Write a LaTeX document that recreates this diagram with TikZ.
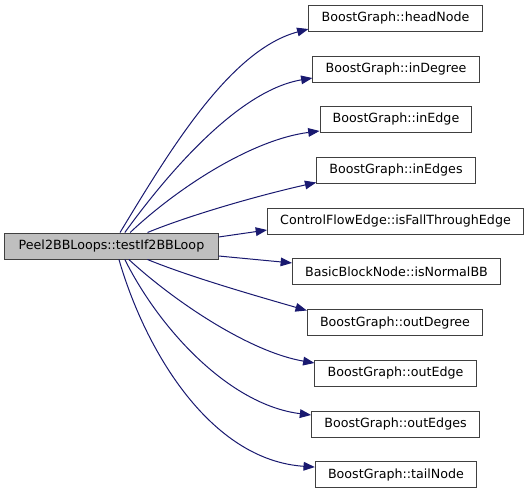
\documentclass[tikz,border=0pt]{standalone}
\usepackage{fontspec}
\setmainfont{DejaVu Sans}
\usepackage{xcolor}
\usetikzlibrary{arrows.meta}
\definecolor{edgeblue}{HTML}{191970}
\definecolor{rootgray}{HTML}{BFBFBF}
\definecolor{boxline}{HTML}{404040}

\begin{document}
\begin{tikzpicture}[
  x=0.75pt, y=-0.75pt,
  func/.style={rectangle, draw=boxline, fill=white, line width=0.75pt, minimum height=19.5pt, inner xsep=9.5pt, font=\fontsize{9.5}{11}\selectfont},
  arrow/.style={-{Triangle[length=8.5pt, width=6.5pt]}, draw=edgeblue, line width=0.75pt}
]
 \useasboundingbox[fill=white] (0,0) rectangle (531,493);

 % Caller
 \node[func, fill=rootgray, minimum width=160pt] (testLoop) at (111.5,246) {Peel2BBLoops::testIf2BBLoop};

 % Callees
 \node[func] (headNode) at (395.5,18.5) {BoostGraph::headNode};
 \node[func] (inDegree) at (396,69.5) {BoostGraph::inDegree};
 \node[func] (inEdge) at (396,119.5) {BoostGraph::inEdge};
 \node[func] (inEdges) at (396,170.5) {BoostGraph::inEdges};
 \node[func] (fallThrough) at (395.5,221) {ControlFlowEdge::isFallThroughEdge};
 \node[func] (normalBB) at (396.5,271.5) {BasicBlockNode::isNormalBB};
 \node[func] (outDegree) at (395,322.5) {BoostGraph::outDegree};
 \node[func] (outEdge) at (395.5,373) {BoostGraph::outEdge};
 \node[func] (outEdges) at (395.5,424) {BoostGraph::outEdges};
 \node[func] (tailNode) at (396,474.5) {BoostGraph::tailNode};

 % Calls
 \draw[arrow] ([xshift=6.4pt]testLoop.north) .. controls (170,150) and (230,50) .. ([yshift=-7.9pt]headNode.west);
 \draw[arrow] ([xshift=10pt]testLoop.north) .. controls (170,170) and (240,90) .. ([yshift=-6.4pt]inDegree.west);
 \draw[arrow] ([xshift=14pt]testLoop.north) .. controls (175,190) and (250,140) .. ([yshift=-8.6pt]inEdge.west);
 \draw[arrow] ([xshift=27pt]testLoop.north) .. controls (190,215) and (260,195) .. ([yshift=-9pt]inEdges.west);
 \draw[arrow] ([yshift=6.75pt]testLoop.east) -- ([yshift=-6.75pt]fallThrough.west);
 \draw[arrow] ([yshift=-7.5pt]testLoop.east) -- ([yshift=6.4pt]normalBB.west);
 \draw[arrow] ([xshift=27pt]testLoop.south) .. controls (190,277) and (260,297) .. ([yshift=9pt]outDegree.west);
 \draw[arrow] ([xshift=13pt]testLoop.south) .. controls (175,302) and (250,352) .. ([yshift=7.5pt]outEdge.west);
 \draw[arrow] ([xshift=10pt]testLoop.south) .. controls (160,330) and (230,405) .. ([yshift=6.75pt]outEdges.west);
 \draw[arrow] ([xshift=5.6pt]testLoop.south) .. controls (145,350) and (210,460) .. ([yshift=5.6pt]tailNode.west);
\end{tikzpicture}
\end{document}
